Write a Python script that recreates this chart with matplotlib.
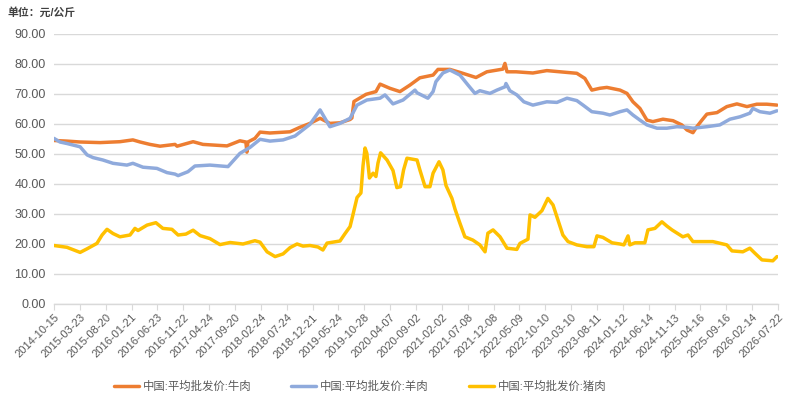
import matplotlib
matplotlib.use("Agg")
import matplotlib.pyplot as plt

plt.rcParams['font.family'] = ['Liberation Sans', 'Noto Sans CJK SC', 'DejaVu Sans']

# ---- data (x = trading-day observation number, tick label every 100 observations)
tick_labels = ["2014-10-15", "2015-03-23", "2015-08-20", "2016-01-21", "2016-06-23",
               "2016-11-22", "2017-04-24", "2017-09-20", "2018-02-24", "2018-07-24",
               "2018-12-21", "2019-05-24", "2019-10-28", "2020-04-07", "2020-09-02",
               "2021-02-02", "2021-07-08", "2021-12-08", "2022-05-09", "2022-10-10",
               "2023-03-10", "2023-08-11", "2024-01-12", "2024-06-14", "2024-11-13",
               "2025-04-16", "2025-09-16", "2026-02-14", "2026-07-22"]
tick_obs = [i * 100 for i in range(len(tick_labels))]

beef_obs = [0, 50, 101, 178, 255, 305, 333, 371, 410, 468, 476, 538, 576, 669, 719, 742,
            746, 750, 777, 797, 835, 913, 951, 990, 1029, 1067, 1106, 1145, 1152, 1160,
            1207, 1245, 1261, 1299, 1338, 1377, 1415, 1466, 1485, 1531, 1570, 1632, 1674,
            1736, 1744, 1752, 1787, 1852, 1906, 1957, 2022, 2053, 2080, 2111, 2138, 2189,
            2216, 2239, 2266, 2293, 2316, 2355, 2394, 2428, 2448, 2471, 2486, 2506, 2525,
            2564, 2602, 2641, 2680, 2718, 2757, 2796]
beef_val = [54.5, 54.3, 54.0, 53.8, 54.1, 54.7, 54.0, 53.2, 52.6, 53.2, 52.6, 54.1, 53.2,
            52.7, 54.4, 54.0, 50.6, 54.0, 55.2, 57.3, 57.0, 57.4, 58.9, 60.2, 61.9, 60.2,
            60.4, 61.5, 62.0, 67.5, 69.9, 70.8, 73.3, 71.9, 70.8, 73.0, 75.4, 76.3, 78.2,
            78.2, 77.2, 75.5, 77.4, 78.3, 80.2, 77.4, 77.4, 77.0, 77.8, 77.4, 76.9, 75.2,
            71.3, 71.9, 72.2, 71.3, 70.2, 67.4, 65.2, 61.3, 60.8, 61.6, 61.1, 59.7, 58.0,
            57.1, 59.1, 61.3, 63.3, 63.8, 65.8, 66.7, 65.8, 66.6, 66.6, 66.3]

mutton_obs = [0, 23, 50, 101, 128, 151, 189, 228, 282, 305, 344, 398, 437, 468, 480, 518,
              545, 603, 673, 719, 758, 797, 835, 886, 932, 990, 1029, 1067, 1106, 1145,
              1172, 1210, 1261, 1280, 1311, 1350, 1396, 1404, 1446, 1466, 1477, 1504, 1531,
              1570, 1601, 1628, 1647, 1686, 1713, 1744, 1748, 1763, 1790, 1817, 1852, 1906,
              1945, 1984, 2022, 2046, 2080, 2123, 2150, 2189, 2216, 2239, 2266, 2293, 2332,
              2370, 2409, 2448, 2471, 2525, 2575, 2614, 2653, 2691, 2703, 2730, 2769, 2796]
mutton_val = [55.2, 54.0, 53.5, 52.4, 49.7, 48.8, 48.0, 46.9, 46.3, 46.9, 45.6, 45.2, 43.8,
              43.3, 42.8, 44.1, 46.0, 46.3, 45.8, 50.2, 52.2, 54.9, 54.3, 54.7, 56.0, 59.9,
              64.7, 59.1, 60.2, 61.9, 66.3, 68.0, 68.6, 69.7, 66.7, 68.0, 71.3, 70.4, 68.6,
              70.8, 74.1, 77.0, 78.0, 76.3, 73.0, 70.2, 71.1, 70.2, 71.3, 72.4, 73.5, 71.1,
              69.7, 67.4, 66.3, 67.4, 67.2, 68.6, 67.8, 66.3, 64.1, 63.6, 63.0, 64.1, 64.7,
              63.0, 61.3, 59.7, 58.6, 58.6, 59.1, 58.9, 58.6, 59.1, 59.7, 61.6, 62.4, 63.6,
              65.2, 64.1, 63.6, 64.4]

pork_obs = [0, 50, 101, 128, 166, 186, 205, 228, 255, 294, 313, 325, 360, 394, 421, 456,
            480, 510, 538, 565, 603, 642, 681, 731, 777, 797, 824, 855, 886, 913, 940, 963,
            990, 1021, 1040, 1056, 1106, 1125, 1145, 1156, 1172, 1187, 1195, 1203, 1210,
            1220, 1234, 1245, 1253, 1263, 1288, 1311, 1326, 1340, 1352, 1365, 1404, 1415,
            1435, 1454, 1466, 1489, 1504, 1516, 1539, 1551, 1570, 1589, 1620, 1647, 1667,
            1678, 1698, 1725, 1752, 1790, 1802, 1833, 1841, 1860, 1887, 1910, 1930, 1949,
            1968, 1988, 2022, 2061, 2088, 2100, 2123, 2158, 2189, 2204, 2220, 2227, 2247,
            2285, 2297, 2324, 2351, 2370, 2390, 2432, 2452, 2471, 2548, 2568, 2602, 2622,
            2664, 2691, 2711, 2738, 2780, 2796]
pork_val = [19.5, 18.9, 17.2, 18.4, 20.2, 23.0, 24.9, 23.5, 22.4, 23.0, 25.2, 24.5, 26.3,
            27.1, 25.2, 24.9, 23.0, 23.3, 24.6, 22.8, 21.8, 19.8, 20.5, 20.0, 21.1, 20.6,
            17.4, 15.8, 16.7, 18.8, 20.0, 19.3, 19.5, 19.0, 18.0, 20.3, 21.0, 23.4, 25.8,
            29.7, 35.5, 37.0, 46.0, 52.0, 50.2, 42.0, 43.6, 42.5, 47.0, 50.4, 48.0, 44.5,
            38.8, 39.1, 44.7, 48.6, 48.0, 44.7, 39.1, 39.1, 43.6, 47.4, 44.7, 39.5, 35.2,
            31.6, 26.9, 22.4, 21.3, 19.7, 17.4, 23.6, 24.7, 22.4, 18.6, 18.2, 20.2, 21.6,
            29.7, 28.9, 31.1, 35.2, 33.0, 28.0, 23.0, 20.8, 19.7, 19.1, 19.1, 22.7, 22.2,
            20.4, 20.0, 19.7, 22.7, 19.7, 20.4, 20.4, 24.7, 25.2, 27.4, 26.0, 24.7, 22.4,
            23.0, 20.8, 20.8, 20.4, 19.7, 17.7, 17.4, 18.6, 16.9, 14.7, 14.4, 15.8]

series_names = ["中国:平均批发价:牛肉", "中国:平均批发价:羊肉", "中国:平均批发价:猪肉"]
y_ticks = [0, 10, 20, 30, 40, 50, 60, 70, 80, 90]

# ---- figure
W, H = 793, 408
fig = plt.figure(figsize=(W / 100, H / 100), dpi=100)
ax = fig.add_axes([54 / W, 1 - 304 / H, (778 - 54) / W, (304 - 34) / H])

colors = ["#ED7D31", "#8FAADC", "#FFC000"]
ax.plot(beef_obs, beef_val, color=colors[0], lw=2.5, label=series_names[0],
        solid_joinstyle='round', solid_capstyle='round')
ax.plot(mutton_obs, mutton_val, color=colors[1], lw=2.5, label=series_names[1],
        solid_joinstyle='round', solid_capstyle='round')
ax.plot(pork_obs, pork_val, color=colors[2], lw=2.5, label=series_names[2],
        solid_joinstyle='round', solid_capstyle='round')

ax.set_xlim(tick_obs[0], tick_obs[-1])
ax.set_ylim(0, 90)
ax.set_yticks(y_ticks)
ax.set_yticklabels([f"{v:.2f}" for v in y_ticks])
ax.grid(axis='y', color='#D9D9D9', lw=1)
ax.set_axisbelow(True)
for s in ['left', 'right', 'top']:
    ax.spines[s].set_visible(False)
ax.spines['bottom'].set_color('#D9D9D9')
ax.spines['bottom'].set_linewidth(1)
ax.tick_params(axis='y', length=0, pad=6, labelsize=9, labelcolor='#595959')
ax.set_xticks(tick_obs)
ax.set_xticklabels(tick_labels, rotation=45, ha='right', rotation_mode='anchor')
ax.tick_params(axis='x', length=4, color='#D9D9D9', pad=2, labelsize=8,
               labelcolor='#595959')

fig.text(8 / W, 1 - 12 / H, "单位：元/公斤", fontsize=7.8, fontweight='bold',
         color='#404040', va='center', ha='left')

fig.legend(loc='center', bbox_to_anchor=(360 / W, 1 - 386 / H), ncol=3, frameon=False,
           fontsize=8.2, labelcolor='#595959', handlelength=2.2, handletextpad=0.35,
           columnspacing=3.5)

fig.savefig("out.png", dpi=100)
